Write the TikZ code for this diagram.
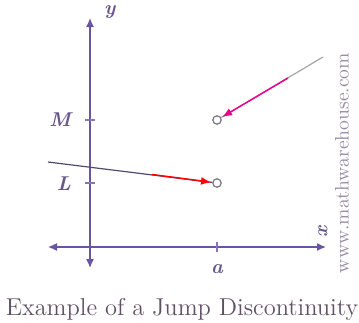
\documentclass[tikz,border=0pt]{standalone}
\usetikzlibrary{arrows.meta}
\definecolor{axiscol}{RGB}{104,84,160}
\definecolor{labelcol}{RGB}{104,88,140}
\definecolor{capcol}{RGB}{96,80,100}
\definecolor{holecol}{RGB}{120,116,130}
\definecolor{graphcol}{RGB}{78,74,112}
\definecolor{markcol}{RGB}{150,140,165}
\tikzset{
  axis/.style={draw=axiscol, line width=0.65pt, {Latex[length=4.5pt,width=4pt]}-{Latex[length=4.5pt,width=4pt]}},
  tickmark/.style={draw=axiscol!80, line width=0.6pt},
  lbl/.style={text=labelcol, font=\bfseries\itshape},
  hole/.style={circle, draw=holecol, line width=0.6pt, fill=white, inner sep=0pt, minimum size=4.2pt},
  graph/.style={draw=graphcol, line width=0.6pt},
  approach/.style={line width=0.75pt, -{Latex[length=5pt,width=4pt]}, shorten >=0.6pt}
}
\begin{document}
\begin{tikzpicture}[x=0.5pt,y=-0.5pt]
\useasboundingbox (0,0) rectangle (359,322);
% axes
\coordinate (ytop) at (90,18);
\coordinate (ybot) at (90,268);
\coordinate (xleft) at (48,247);
\coordinate (xright) at (326,247);
\draw[axis] (ybot) -- (ytop);
\draw[axis] (xleft) -- (xright);
\node[lbl, anchor=west] (ylabel) at (97,12) {y};
\node[lbl, rotate=90] (xlabel) at (323,232) {x};
% ticks
\draw[tickmark] (85,120) -- (95,120);
\draw[tickmark] (85,183) -- (95,183);
\draw[tickmark] (217,242) -- (217,252);
\node[lbl, anchor=east] (mlabel) at (78,120) {M};
\node[lbl, anchor=east] (llabel) at (78,184) {L};
\node[lbl] (alabel) at (217,269) {a};
% left branch
\coordinate (leftend) at (48,162);
\coordinate (redstart) at (152,174.5);
\node[hole] (holeL) at (217,183) {};
\draw[graph] (leftend) -- (holeL);
\draw[approach, red] (redstart) -- (holeL);
% right branch
\coordinate (rightend) at (323,57);
\coordinate (magstart) at (288,78);
\node[hole] (holeM) at (217,120) {};
\draw[graph, draw=gray!70] (rightend) -- (holeM);
\draw[approach, magenta] (magstart) -- (holeM);
% watermark and caption
\node[rotate=90, text=markcol, font=\fontsize{9.8}{11}\selectfont] (mark) at (342,163) {www.mathwarehouse.com};
\node[text=capcol, font=\fontsize{12.2}{14}\selectfont] (caption) at (182,309) {Example of a Jump Discontinuity};
\end{tikzpicture}
\end{document}
